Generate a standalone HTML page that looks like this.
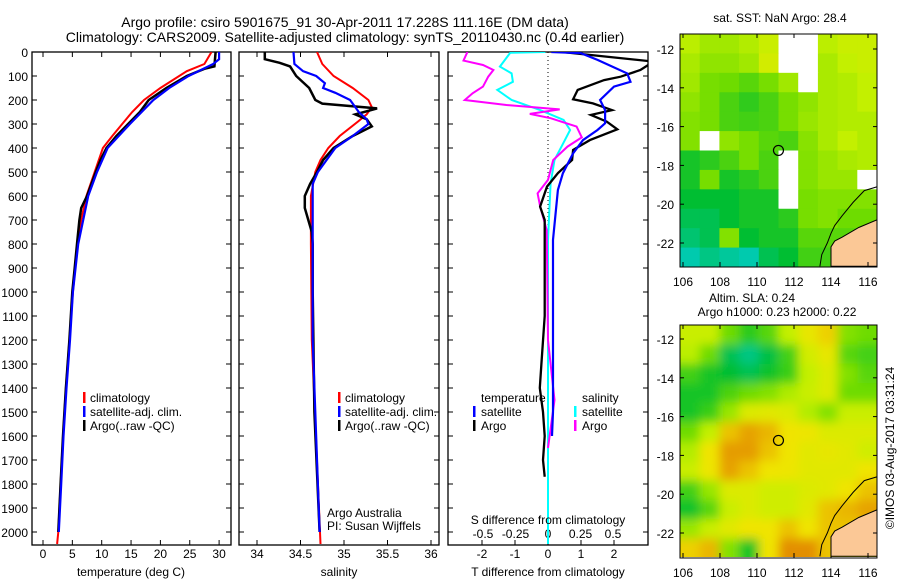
<!DOCTYPE html>
<html><head><meta charset="utf-8">
<style>
body{margin:0;background:#fff;}
svg{display:block;font-family:"Liberation Sans",sans-serif;}
text{font-size:12px;fill:#000;}
</style></head>
<body>
<svg id="fig" width="900" height="580" viewBox="0 0 900 580">
<defs>
<clipPath id="c1"><rect x="32" y="52" width="199" height="493"/></clipPath>
<clipPath id="c2"><rect x="239" y="52" width="200" height="493"/></clipPath>
<clipPath id="c3"><rect x="448" y="52" width="200" height="493"/></clipPath>
<clipPath id="cm1"><rect x="680" y="34" width="197" height="233"/></clipPath>
<clipPath id="cm2"><rect x="680" y="325" width="197" height="232"/></clipPath>
<filter id="blr" x="-10%" y="-10%" width="120%" height="120%"><feGaussianBlur stdDeviation="5"/></filter>
</defs>
<text x="345" y="27" text-anchor="middle" style="font-size:14px">Argo profile: csiro 5901675_91 30-Apr-2011 17.228S 111.16E (DM data)</text>
<text x="345" y="42" text-anchor="middle" style="font-size:14px">Climatology: CARS2009. Satellite-adjusted climatology: synTS_20110430.nc (0.4d earlier)</text>
<g id="g"></g>
</svg>
<script>
// ---- data ----
const depthTicks=[0,100,200,300,400,500,600,700,800,900,1000,1100,1200,1300,1400,1500,1600,1700,1800,1900,2000];
const tempTicks=[0,5,10,15,20,25,30];
const salTicks=[34,34.5,35,35.5,36];
const tdiffTicks=[-2,-1,0,1,2];
const sdiffTicks=[-0.5,-0.25,0,0.25,0.5];
const tArgoD=[0,60,70,100,150,200,250,300,350,400,450,500,600,650,700,800,900,1000,1200,1400,1600,1800,2000];
const tArgoV=[29.4,29.2,27.5,24.5,21,18,16.5,14.5,12.5,10.8,9.8,9,7.5,6.5,6.2,5.8,5.4,5.0,4.5,3.9,3.4,3.0,2.6];
const tClimD=[0,50,80,150,200,250,300,350,400,500,600,700,800,1000,1200,1400,1600,1800,2000,2050];
const tClimV=[28.7,27.5,24.5,20,17.2,15.2,13.5,11.8,10.2,8.8,7.4,6.5,5.9,5.1,4.5,3.9,3.4,3.0,2.6,2.4];
const tSatD=[0,30,50,100,150,200,300,400,500,600,800,1000,1200,1400,1600,1800,2000];
const tSatV=[30,30,29,24.8,21.5,18.8,14.8,11,9.2,7.7,6,5.1,4.6,4.0,3.5,3.1,2.7];
const sArgoD=[0,30,45,60,100,150,200,215,235,260,280,310,350,400,450,500,550,600,650,700,750,800,1000,1500,2000];
const sArgoV=[34.09,34.09,34.26,34.38,34.45,34.6,34.67,34.75,35.38,35.13,35.26,35.32,35.1,34.88,34.76,34.69,34.61,34.55,34.55,34.59,34.63,34.64,34.64,34.66,34.72];
const sClimD=[0,50,100,150,200,230,260,290,350,400,450,500,600,800,1200,2050];
const sClimV=[34.69,34.75,34.88,35.1,35.28,35.32,35.26,35.16,34.95,34.82,34.73,34.67,34.62,34.62,34.63,34.73];
const sSatD=[0,50,80,100,130,150,170,200,250,280,300,350,400,500,550,800,1200,2000];
const sSatV=[34.42,34.43,34.53,34.68,34.78,34.76,34.9,35.07,35.17,35.26,35.28,35.1,34.9,34.7,34.64,34.64,34.64,34.72];
const dtArgoD=[0,40,75,103,117,158,197,214,242,262,290,322,367,408,450,505,561,644,700,900,1100,1300,1400,1500,1600,1700,1770];
const dtArgoV=[0.42,3.2,2.8,2.2,1.7,0.9,0.76,1.36,1.94,1.3,1.78,2.1,1.27,0.76,0.73,0.3,-0.03,-0.24,-0.1,-0.1,-0.1,-0.2,-0.25,-0.15,-0.1,-0.15,-0.1];
const dtSatD=[0,5,33,89,124,144,200,242,297,325,367,422,505,575,783,1200,1500,1600];
const dtSatV=[0.1,1.0,1.5,2.4,2.5,2.0,1.58,1.73,1.73,1.5,1.06,0.76,0.45,0.3,0.15,0.15,0.15,0.12];
const dsArgoD=[0,36,54,75,103,144,172,200,221,239,258,276,311,356,394,450,533,589,644,742,1200,1450,1650];
const dsArgoV=[-0.62,-0.65,-0.5,-0.42,-0.46,-0.5,-0.58,-0.64,-0.32,0.09,-0.14,0.02,0.22,0.26,0.15,0.04,0,-0.08,-0.06,-0.01,0,0.05,0];
const dsSatD=[0,3,61,89,124,158,200,242,283,325,367,450,547,783,2050];
const dsSatV=[-0.02,-0.29,-0.37,-0.28,-0.27,-0.39,-0.28,-0.06,0.12,0.17,0.13,0.05,0.02,0,0];
const lonTicks=[106,108,110,112,114,116];
const latTicks=[-12,-14,-16,-18,-20,-22];
const sstGrid=[
[0.68,0.62,0.62,0.66,0.72,null,null,0.68,0.72,0.72],
[0.64,0.58,0.58,0.62,0.75,null,null,0.64,0.7,0.72],
[0.62,0.52,0.5,0.45,0.52,0.62,null,0.64,0.66,0.7],
[0.58,0.52,0.42,0.36,0.42,0.52,0.58,0.64,0.66,0.7],
[0.55,0.52,0.42,0.4,0.42,0.52,0.6,0.64,0.66,0.66],
[0.55,null,0.58,0.52,0.45,0.42,0.56,0.64,0.7,0.66],
[0.3,0.35,0.42,0.52,0.42,null,0.55,0.6,0.64,0.66],
[0.3,0.52,0.3,0.35,0.42,null,0.55,0.6,0.6,null],
[0.25,0.25,0.25,0.3,0.3,null,0.52,0.55,0.55,0.55],
[0.2,0.2,0.25,0.3,0.3,0.35,0.52,0.55,0.5,0.5],
[0.15,0.2,0.55,0.25,0.3,0.3,0.45,0.45,0.45,0.45],
[0.05,0.12,0.08,0.05,0.2,0.25,0.4,0.4,0.4,0.4]];
const slaGrid=[
[0.72,0.72,0.5,0.35,0.45,0.7,0.82,0.88,0.55,0.5],
[0.68,0.5,0.2,0.12,0.22,0.4,0.75,0.82,0.45,0.4],
[0.4,0.3,0.25,0.2,0.28,0.38,0.7,0.78,0.55,0.45],
[0.3,0.3,0.42,0.5,0.55,0.65,0.72,0.78,0.5,0.5],
[0.3,0.38,0.6,0.78,0.8,0.78,0.66,0.55,0.72,0.72],
[0.5,0.7,0.9,0.95,0.92,0.85,0.84,0.78,0.78,0.78],
[0.66,0.85,0.96,0.96,0.9,0.85,0.8,0.82,0.8,0.74],
[0.72,0.84,0.95,0.9,0.85,0.84,0.8,0.8,0.8,0.85],
[0.4,0.6,0.78,0.78,0.74,0.74,0.78,0.8,0.85,0.9],
[0.28,0.45,0.72,0.78,0.74,0.74,0.8,0.9,0.92,0.95],
[0.6,0.72,0.8,0.85,0.85,0.9,0.85,0.9,0.9,0.9],
[0.88,0.92,0.55,0.3,0.85,0.98,0.98,0.9,0.85,0.85]];
const coastLon=[116.5,115.8,115.2,114.6,114.2,114.0,113.8,113.5,113.4];
const coastLat=[-19.1,-19.3,-19.9,-20.6,-21.1,-21.5,-22.0,-22.6,-23.2];
const landLon=[116.5,115.5,114.6,114.2,114.0,114.0,116.5];
const landLat=[-20.8,-21.2,-21.7,-21.9,-22.2,-23.2,-23.2];
const argoLon=111.16, argoLat=-17.228;

// ---- helpers ----
const NS="http://www.w3.org/2000/svg";
const G=document.getElementById('g');
function mk(tag,at,par){const e=document.createElementNS(NS,tag);for(const k in at)e.setAttribute(k,at[k]);(par||G).appendChild(e);return e;}
const yD=d=>52+d*0.24;
const xT=v=>43+v*5.87, xS=v=>257+(v-34)*87, xdT=v=>548+v*33, xdS=v=>548+v*130;
function line(D,V,fx,col,w,clip,name){
  const p=mk('polyline',{points:D.map((d,i)=>fx(V[i]).toFixed(1)+','+yD(d).toFixed(1)).join(' '),fill:'none',stroke:col,'stroke-width':w,'clip-path':'url(#'+clip+')'});
  
  
}
function txt(x,y,s,anchor,name,extra){const t=mk('text',Object.assign({x:x,y:y,'text-anchor':anchor||'start'},extra||{}));t.textContent=s;
  
  return t;}
function frame(x0,x1,name,depthLabels){
  const r=mk('rect',{x:x0,y:52,width:x1-x0,height:493,fill:'none',stroke:'#000','stroke-width':1.3});
  
  
  depthTicks.forEach(d=>{const y=yD(d);mk('line',{x1:x0,x2:x0+5,y1:y,y2:y,stroke:'#000'});mk('line',{x1:x1-5,x2:x1,y1:y,y2:y,stroke:'#000'});
    if(depthLabels)txt(28,y+5,String(d),'end','depth-tick-label');});
}
function xticks(ticks,fx,yb,labY,name){ticks.forEach(v=>{const x=fx(v);mk('line',{x1:x,x2:x,y1:52,y2:57,stroke:'#000'});mk('line',{x1:x,x2:x,y1:545-5,y2:545,stroke:'#000'});
  txt(x,labY,String(v),'middle',name);});}

// panel 1
frame(32,231,'temperature-panel',true);
xticks(tempTicks,xT,545,558,'temperature-tick-label');
line(tClimD,tClimV,xT,'#f00',2,'c1','temperature-climatology-line');
line(tArgoD,tArgoV,xT,'#000',2.5,'c1','temperature-argo-line');
line(tSatD,tSatV,xT,'#00f',2.2,'c1','temperature-satellite-line');
txt(131,576,'temperature (deg C)','middle','temperature-axis-title');
// panel 2
frame(239,439,'salinity-panel',false);
xticks(salTicks,xS,545,558,'salinity-tick-label');
line(sClimD,sClimV,xS,'#f00',2,'c2','salinity-climatology-line');
line(sArgoD,sArgoV,xS,'#000',2.5,'c2','salinity-argo-line');
line(sSatD,sSatV,xS,'#00f',2.2,'c2','salinity-satellite-line');
txt(339,576,'salinity','middle','salinity-axis-title');
txt(327,517,'Argo Australia','start','credit-institution');
txt(327,530,'PI: Susan Wijffels','start','credit-pi');
// legends 1 & 2
[[83,90],[338,345]].forEach((p,k)=>{[['#f00','climatology'],['#00f','satellite-adj. clim.'],['#000','Argo(..raw -QC)']].forEach((e,i)=>{
  const m=mk('rect',{x:p[0],y:392+i*14,width:2.5,height:11,fill:e[0]});
  
  
  txt(p[1],402+i*14,e[1],'start','legend-entry');});});
// panel 3
frame(448,648,'difference-panel',false);
tdiffTicks.forEach(v=>{const x=xdT(v);mk('line',{x1:x,x2:x,y1:540,y2:545,stroke:'#000'});txt(x,558,String(v),'middle','t-diff-tick-label');});
sdiffTicks.forEach(v=>{txt(xdS(v),538,String(v),'middle','s-diff-tick-label');});
mk('line',{x1:548,x2:548,y1:52,y2:545,stroke:'#000','stroke-dasharray':'1,3'});
line(dsSatD,dsSatV,xdS,'#0ff',2,'c3','salinity-satellite-diff-line');
line(dsArgoD,dsArgoV,xdS,'#f0f',2,'c3','salinity-argo-diff-line');
line(dtArgoD,dtArgoV,xdT,'#000',2.3,'c3','temperature-argo-diff-line');
line(dtSatD,dtSatV,xdT,'#00f',2.2,'c3','temperature-satellite-diff-line');
txt(548,524,'S difference from climatology','middle','s-diff-axis-title');
txt(548,576,'T difference from climatology','middle','t-diff-axis-title');
txt(481,402,'temperature','start','legend-heading-temperature');
txt(582,402,'salinity','start','legend-heading-salinity');
[['#00f','satellite',473],['#000','Argo',473],['#0ff','satellite',574],['#f0f','Argo',574]].forEach((e,i)=>{
  const y=406+(i%2)*14;const m=mk('rect',{x:e[2],y:y,width:2.5,height:11,fill:e[0]});
  
  
  txt(e[2]+8,y+10,e[1],'start','legend-entry');});

// maps
function cmap(v){const st=[[0,[0,205,205]],[0.25,[0,190,50]],[0.5,[110,220,0]],[0.7,[195,240,0]],[0.85,[240,228,0]],[1,[225,130,0]]];
  for(let i=1;i<st.length;i++){if(v<=st[i][0]){const a=st[i-1],b=st[i],t=(v-a[0])/(b[0]-a[0]);return 'rgb('+a[1].map((c,j)=>Math.round(c+(b[1][j]-c)*t)).join(',')+')';}}return 'rgb(225,130,0)';}
function drawMap(top,lat12y,grid,clip,name,blur){
  const lx=v=>683+(v-106)*18.5, ly=v=>lat12y+(-12-v)*19.4;
  const cw=197/10, ch=(233)/12;
  const g=mk('g',{'clip-path':'url(#'+clip+')'});
  
  
  const inner=mk('g',blur?{filter:'url(#blr)'}:{},g);
  const nr=grid.length,nc=grid[0].length,pad=blur?20:0;
  grid.forEach((row,r)=>row.forEach((v,c)=>{
    const x0=680+c*cw-(c===0?pad:0), y0=top+r*ch-(r===0?pad:0);
    const w=cw+0.6+(c===0?pad:0)+(c===nc-1?pad:0), h=ch+0.6+(r===0?pad:0)+(r===nr-1?pad:0);
    const cell=mk('rect',{x:x0,y:y0,width:w,height:h,fill:v===null?'#fff':cmap(v)},inner);
    
    }));
  const land=mk('polygon',{points:landLon.map((v,i)=>lx(v)+','+ly(landLat[i])).join(' '),fill:'#fbc896',stroke:'#000','stroke-width':1},g);
  
  
  const cl=mk('polyline',{points:coastLon.map((v,i)=>lx(v)+','+ly(coastLat[i])).join(' '),fill:'none',stroke:'#000','stroke-width':1},g);
  
  
  const mrk=mk('circle',{cx:lx(argoLon),cy:ly(argoLat),r:5,fill:'none',stroke:'#000','stroke-width':1.2});
  
  
  const fr=mk('rect',{x:680,y:top,width:197,height:233,fill:'none',stroke:'#000','stroke-width':1});
  
  
  lonTicks.forEach(v=>{const x=lx(v);mk('line',{x1:x,x2:x,y1:top+228,y2:top+233,stroke:'#000'});mk('line',{x1:x,x2:x,y1:top,y2:top+4,stroke:'#000'});txt(x,top+252,String(v),'middle','longitude-tick-label');});
  latTicks.forEach(v=>{const y=ly(v);mk('line',{x1:680,x2:684,y1:y,y2:y,stroke:'#000'});mk('line',{x1:873,x2:877,y1:y,y2:y,stroke:'#000'});txt(674,y+5,String(v),'end','latitude-tick-label');});
}
drawMap(34,49,sstGrid,'cm1','sst-map',false);
drawMap(325,339,slaGrid,'cm2','sla-map',true);
txt(780,22,'sat. SST: NaN  Argo: 28.4','middle','sst-map-title');
txt(752,302,'Altim. SLA: 0.24','middle','sla-map-title');
txt(777,316,'Argo h1000: 0.23 h2000: 0.22','middle','sla-map-subtitle');
txt(0,0,'©IMOS 03-Aug-2017 03:31:24','middle','imos-timestamp',{transform:'translate(894,448) rotate(-90)'});
</script>
</body></html>
